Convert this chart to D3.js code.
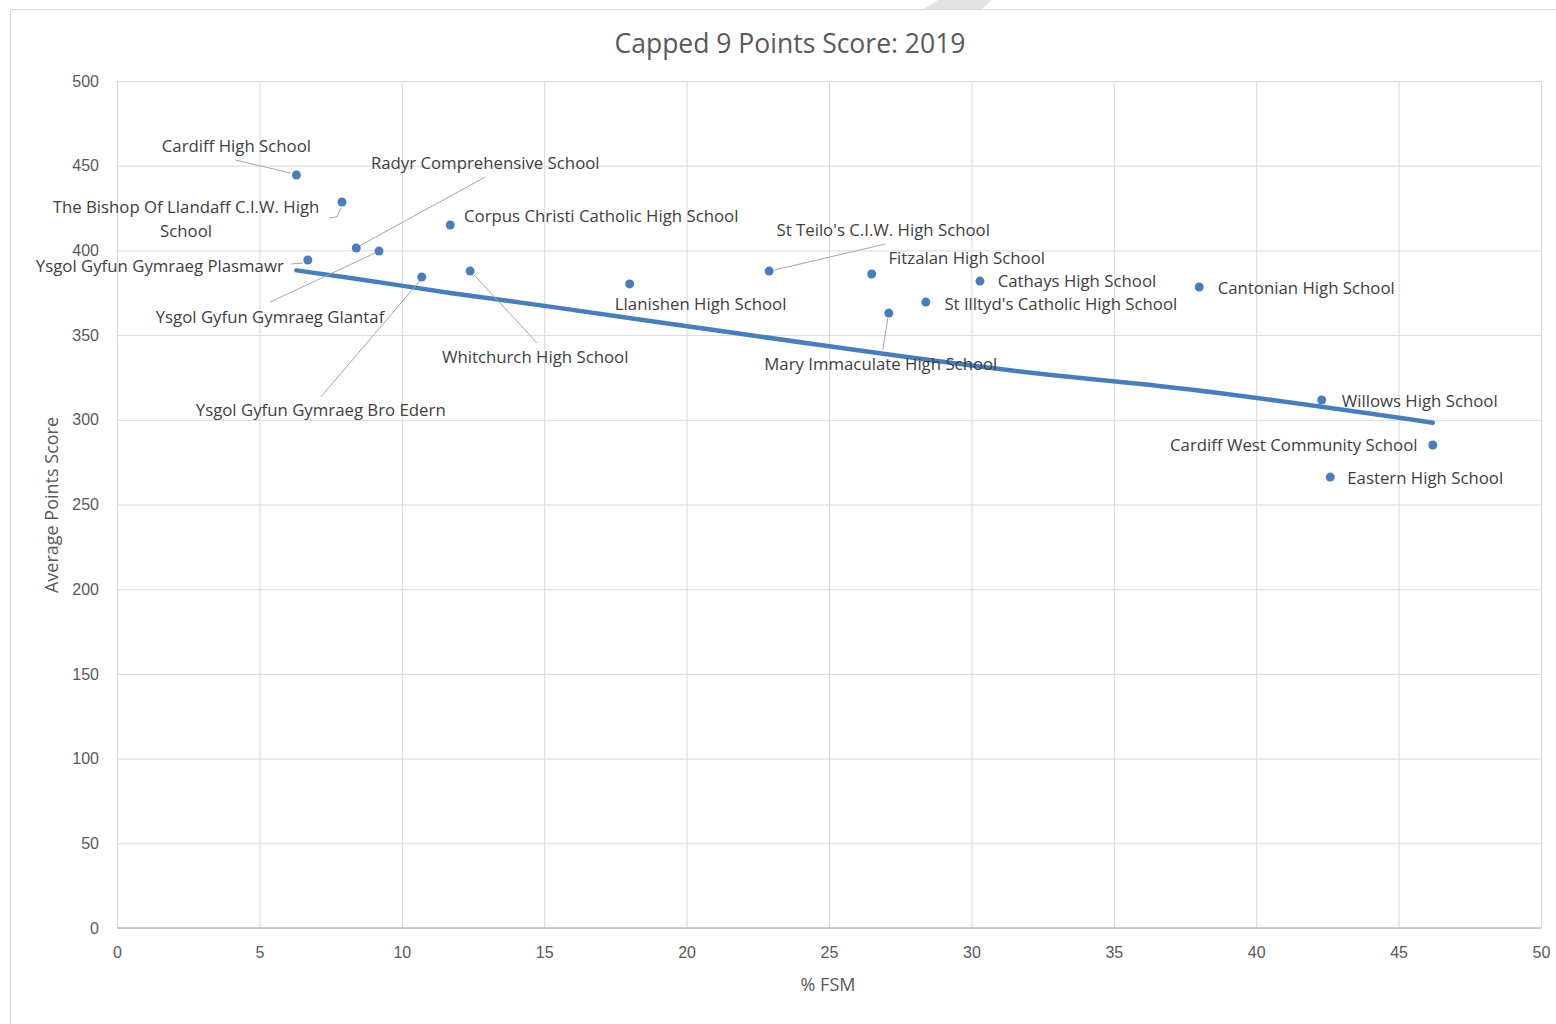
<html>
<head>
<title>Capped 9 Points Score: 2019</title>
<script src="https://d3js.org/d3.v7.min.js"></script>
<style>
body { margin: 0; background: #fff; font-family: 'Open Sans', 'Noto Sans', sans-serif; }
svg { display: block; }
.grid line { stroke: #d9d9d9; }
.grid path { display: none; }
.tick text { fill: #595959; font-size: 16px; }
.lbl { fill: #404040; font-size: 16.8px; }
.leader { stroke: #a6a6a6; fill: none; stroke-width: 1; }
</style>
</head>
<body>
<svg width="1556" height="1024"></svg>

<script>
// data
var schools = ["Cardiff High School", "The Bishop Of Llandaff C.I.W. High School",
  "Radyr Comprehensive School", "Ysgol Gyfun Gymraeg Glantaf", "Ysgol Gyfun Gymraeg Plasmawr",
  "Corpus Christi Catholic High School", "Ysgol Gyfun Gymraeg Bro Edern", "Whitchurch High School",
  "Llanishen High School", "St Teilo's C.I.W. High School", "Fitzalan High School",
  "Cathays High School", "St Illtyd's Catholic High School", "Mary Immaculate High School",
  "Cantonian High School", "Willows High School", "Cardiff West Community School",
  "Eastern High School"];
var fsm =   [6.3, 7.9, 8.4, 9.2, 6.7, 11.7, 10.7, 12.4, 18.0, 22.9, 26.5, 30.3, 28.4, 27.1, 38.0, 42.3, 46.2, 42.6];
var score = [444.5, 428.6, 401.4, 399.6, 394.3, 415.0, 384.3, 387.8, 380.2, 387.8, 386.1, 381.9, 369.5, 363.0, 378.4, 311.7, 285.1, 266.2];

// trend line as drawn
var trendX = [6.3, 8.2, 11.7, 15.2, 22.2, 32.8, 36.3, 46.2];
var trendY = [388.2, 383.7, 374.9, 366.8, 350.0, 326.4, 320.5, 298.3];

var xTicks = [0, 5, 10, 15, 20, 25, 30, 35, 40, 45, 50];
var yTicks = [0, 50, 100, 150, 200, 250, 300, 350, 400, 450, 500];

// label placement: text offset from the point (px), label lines, leader path offsets
var labelOff = [[-60,-29],[-156,5],[129,-85],[-109,66],[-148,6],[151,-9],[-101,133],[65,86],
  [71,20],[114,-41],[95,-16],[97,0],[135,2],[-8,51],[107,1],[98,1],[-139,0],[95,1]];
var labelLines = {1: ["The Bishop Of Llandaff C.I.W. High", "School"]};
var leaders = {
  0: [[-61,-15],[-6,-2]],
  1: [[-13,16],[-5,15],[-1,6]],
  2: [[129,-71],[3,-2]],
  3: [[-109,51],[-4,2]],
  4: [[-17,4],[-5,3]],
  6: [[-101,120],[-2,4]],
  7: [[67,72],[4,4]],
  9: [[116,-27],[5,-1]],
  13: [[-6,37],[-1,5]]
};

var svg = d3.select("svg");

// frame of the chart area
svg.append("path")
  .attr("d", "M10.5,1024 L10.5,9.5 L1556,9.5")
  .attr("fill", "none").attr("stroke", "#d9d9d9");
svg.append("polygon")
  .attr("points", "938,0 992,0 982,9 924,9")
  .attr("fill", "#e3e3e3");

var x = d3.scaleLinear().domain([0, 50]).range([117, 1541]);
var y = d3.scaleLinear().domain([0, 500]).range([928, 81]);

// gridlines
svg.append("g").attr("class", "grid")
  .attr("transform", "translate(0,81)")
  .call(d3.axisBottom(x).tickValues(xTicks).tickSize(928 - 81).tickFormat(""));
svg.append("g").attr("class", "grid")
  .attr("transform", "translate(117,0)")
  .call(d3.axisRight(y).tickValues(yTicks).tickSize(1541 - 117).tickFormat(""));

// axis baseline
svg.append("line")
  .attr("x1", x(0)).attr("x2", x(50)).attr("y1", y(0)).attr("y2", y(0))
  .attr("stroke", "#bfbfbf").attr("stroke-width", 1.5);

var xAxis = svg.append("g")
  .attr("transform", "translate(0," + y(0) + ")")
  .call(d3.axisBottom(x).tickValues(xTicks).tickSize(0).tickPadding(19));
xAxis.select(".domain").remove();

var yAxis = svg.append("g")
  .attr("transform", "translate(" + x(0) + ",0)")
  .call(d3.axisLeft(y).tickValues(yTicks).tickSize(0).tickPadding(18));
yAxis.select(".domain").remove();

// title + axis titles
svg.append("text").attr("x", 790).attr("y", 53)
  .attr("text-anchor", "middle").attr("fill", "#595959")
  .style("font-size", "26.5px").text("Capped 9 Points Score: 2019");
svg.append("text").attr("x", 828).attr("y", 991)
  .attr("text-anchor", "middle").attr("fill", "#595959")
  .style("font-size", "18px").text("% FSM");
svg.append("text")
  .attr("transform", "translate(58,505) rotate(-90)")
  .attr("text-anchor", "middle").attr("fill", "#595959")
  .style("font-size", "18px").text("Average Points Score");

// trend line
var pts = trendX.map(function (d, i) { return [x(d), y(trendY[i])]; });
svg.append("path")
  .attr("d", d3.line().curve(d3.curveMonotoneX)(pts))
  .attr("fill", "none").attr("stroke", "#4a7ebb").attr("stroke-width", 4.5)
  .attr("stroke-linecap", "round");

// leader lines
Object.keys(leaders).forEach(function (k) {
  var i = +k;
  var px = x(fsm[i]), py = y(score[i]);
  svg.append("path").attr("class", "leader")
    .attr("d", d3.line()(leaders[k].map(function (o) { return [px + o[0], py + o[1]]; })));
});

// points
schools.forEach(function (s, i) {
  svg.append("circle")
    .attr("cx", x(fsm[i])).attr("cy", y(score[i]))
    .attr("r", 4.5).attr("fill", "#4a7ebb");
});

// data labels
schools.forEach(function (s, i) {
  var lines = labelLines[i] || [s];
  var t = svg.append("text").attr("class", "lbl")
    .attr("text-anchor", "middle")
    .attr("x", x(fsm[i]) + labelOff[i][0])
    .attr("y", y(score[i]) + labelOff[i][1]);
  lines.forEach(function (l, j) {
    t.append("tspan").attr("x", x(fsm[i]) + labelOff[i][0])
      .attr("dy", j == 0 ? "0.35em" : "24px").text(l);
  });
});
</script>
</body>
</html>
